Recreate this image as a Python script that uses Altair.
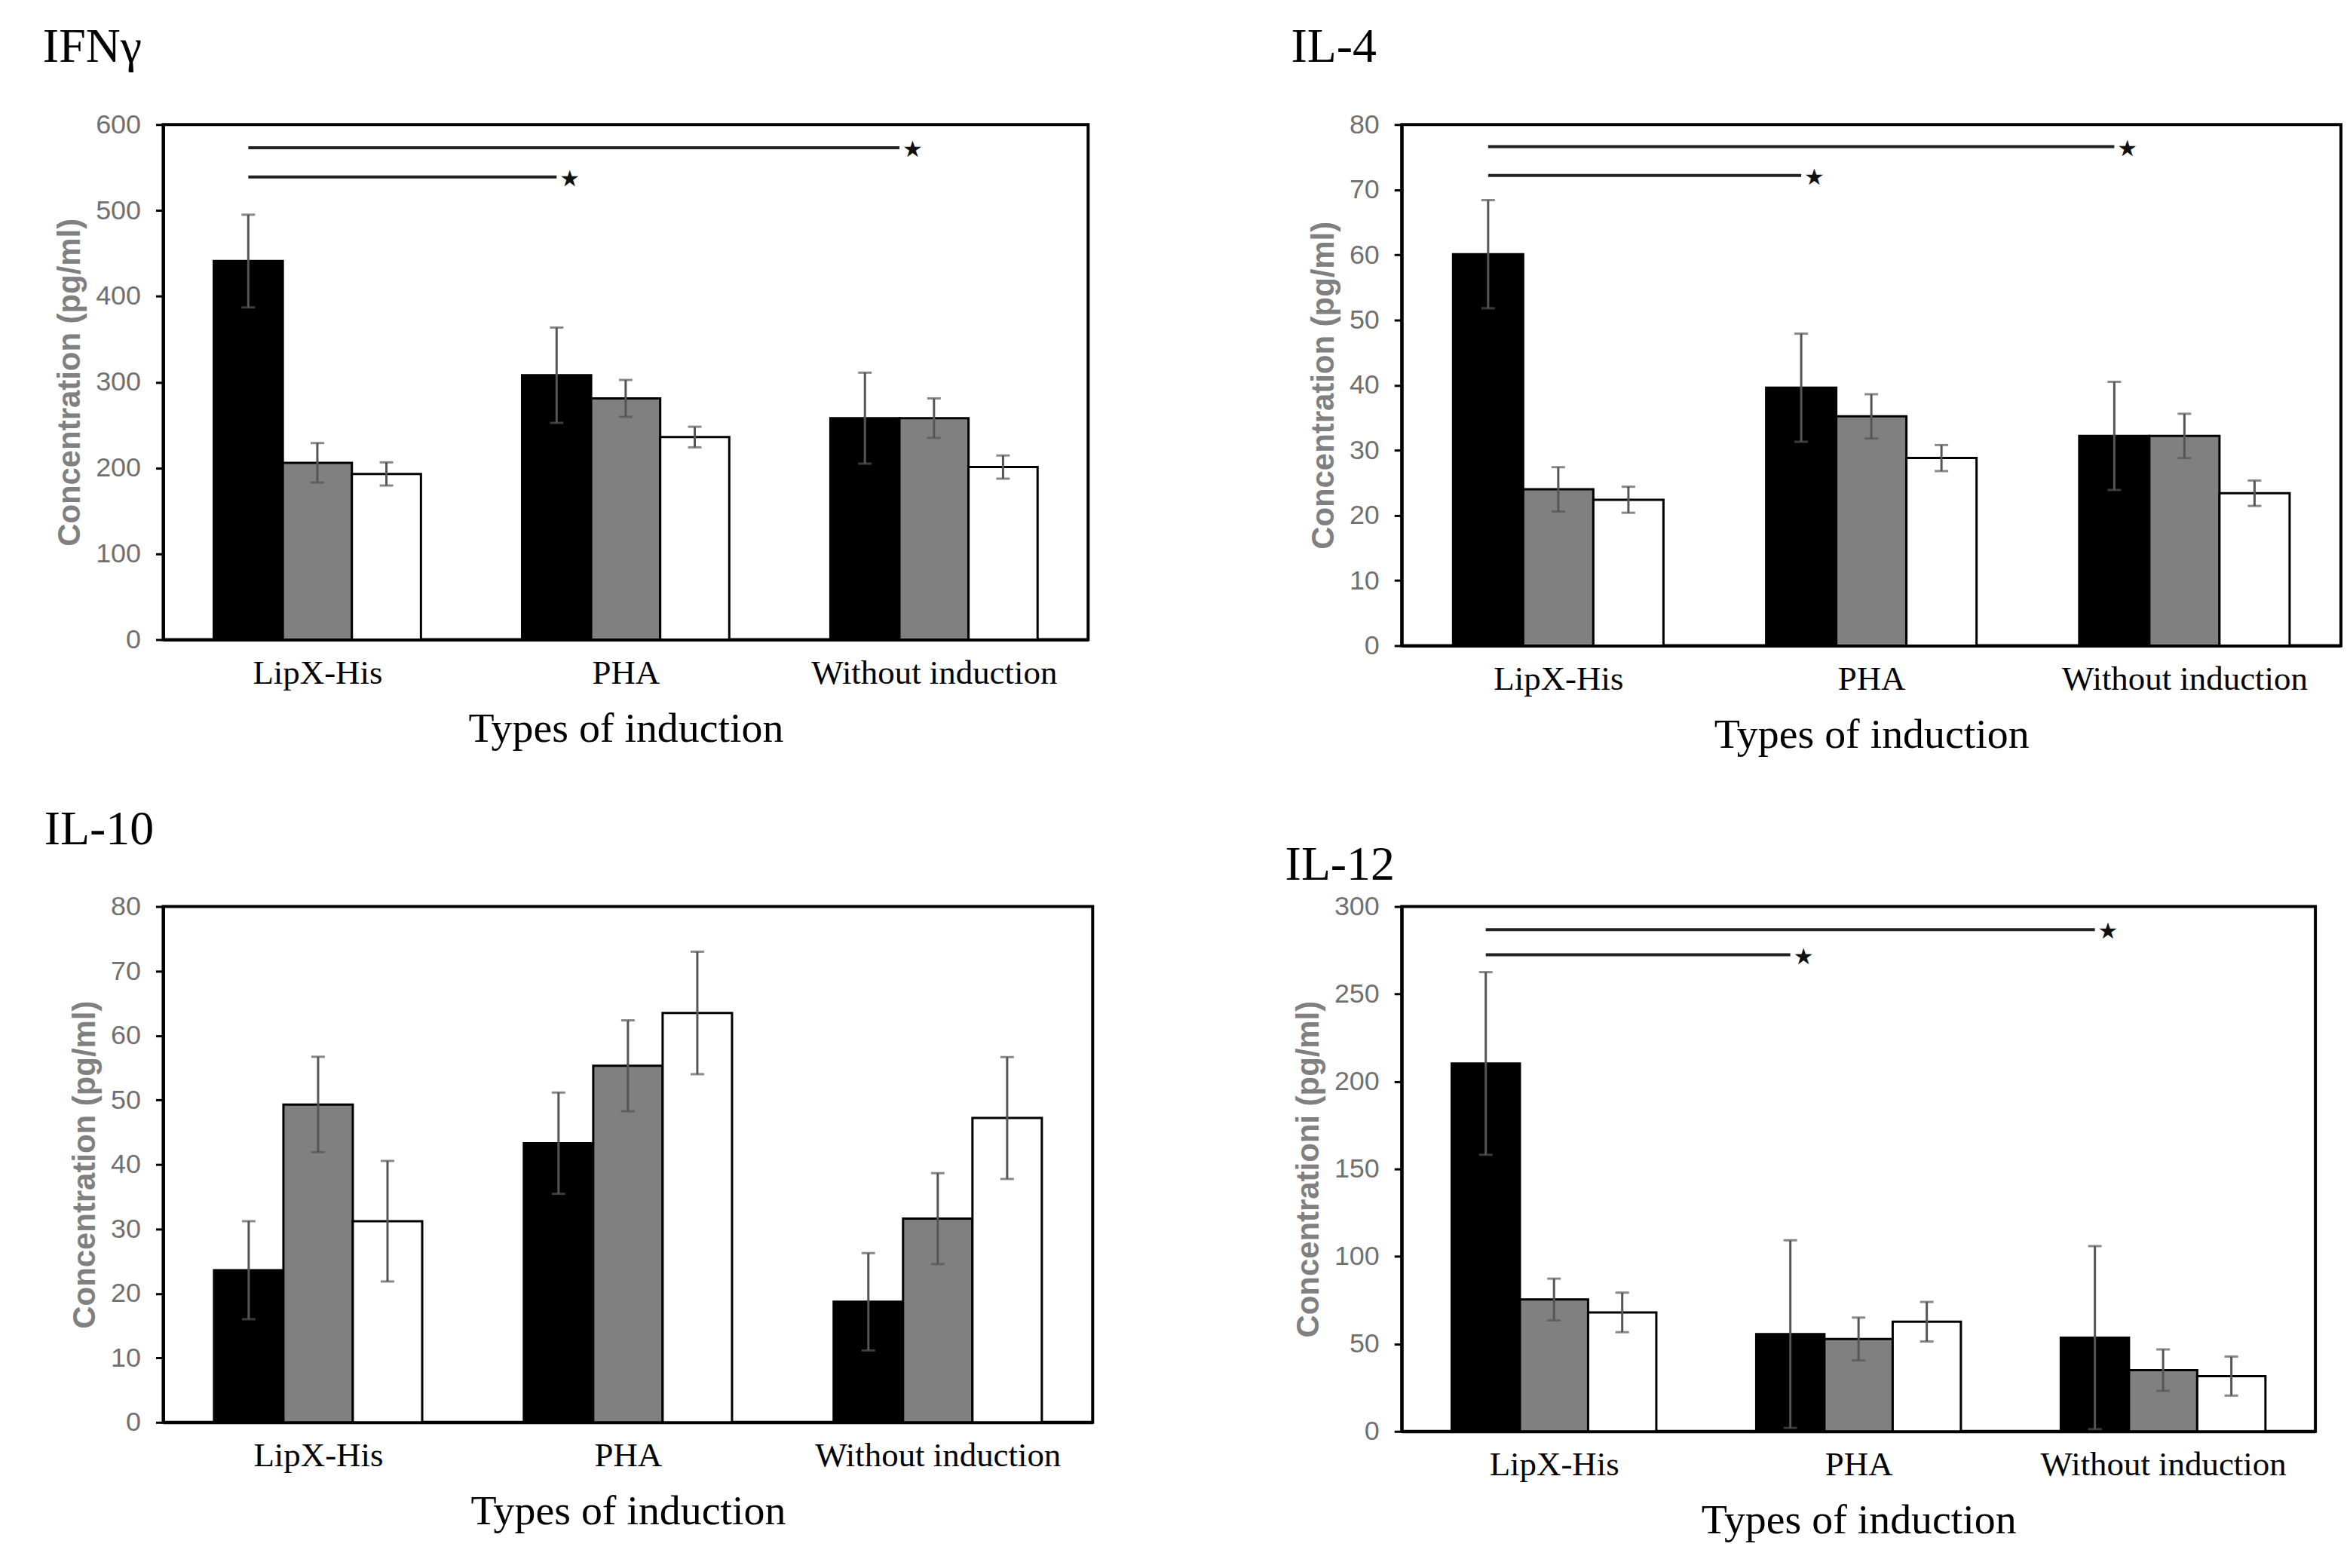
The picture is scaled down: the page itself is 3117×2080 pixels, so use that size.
import altair as alt
import pandas as pd

categories = ["LipX-His", "PHA", "Without induction"]
groups = ["black", "gray", "white"]
group_fill = ["#000000", "#808080", "#ffffff"]

# IFN-gamma (pg/ml)
ifn_black = [441, 308, 258]
ifn_black_err = [54, 55.5, 53]
ifn_gray = [206, 281, 258]
ifn_gray_err = [23, 21.5, 23]
ifn_white = [193, 236, 201]
ifn_white_err = [13.5, 12, 13.5]
# (from, to, level, line ends at centre (0) or right edge (1) of the target's first bar)
ifn_sig = [("LipX-His", "Without induction", 573, 1), ("LipX-His", "PHA", 539, 0)]

# IL-4
il4_black = [60.1, 39.6, 32.2]
il4_black_err = [8.3, 8.3, 8.3]
il4_gray = [24.0, 35.2, 32.2]
il4_gray_err = [3.4, 3.4, 3.4]
il4_white = [22.4, 28.8, 23.4]
il4_white_err = [2.0, 2.0, 1.95]
il4_sig = [("LipX-His", "Without induction", 76.6, 0), ("LipX-His", "PHA", 72.2, 0)]

# IL-10
il10_black = [23.6, 43.3, 18.7]
il10_black_err = [7.6, 7.85, 7.55]
il10_gray = [49.3, 55.3, 31.6]
il10_gray_err = [7.4, 7.05, 7.05]
il10_white = [31.2, 63.5, 47.2]
il10_white_err = [9.35, 9.5, 9.45]
il10_sig = []

# IL-12
il12_black = [210.3, 55.6, 53.6]
il12_black_err = [52.2, 53.6, 52.3]
il12_gray = [75.4, 52.8, 35.0]
il12_gray_err = [11.9, 12.25, 11.85]
il12_white = [68.0, 62.7, 31.6]
il12_white_err = [11.3, 11.3, 11.15]
il12_sig = [("LipX-His", "Without induction", 286.8, 0), ("LipX-His", "PHA", 272.4, 0)]

CATS_JS = "[" + ",".join("'" + c + "'" for c in categories) + "]"
GRPS_JS = "[" + ",".join("'" + g + "'" for g in groups) + "]"
BAR_STEP = 0.224


def build_df(means, errs):
    rows = []
    for g, m_list, e_list in zip(groups, means, errs):
        for c, m, e in zip(categories, m_list, e_list):
            rows.append({"cat": c, "grp": g, "mean": m, "lo": max(m - e, 0), "hi": m + e})
    return pd.DataFrame(rows)


def panel(title, means, errs, sig, ymax, ystep, ytitle, w, h, tdx, toff, tdy=0):
    df = build_df(means, errs)
    xscale = alt.Scale(domain=[0, 3], nice=False, zero=False)
    yscale = alt.Scale(domain=[0, ymax], nice=False)
    xaxis = alt.Axis(
        title="Types of induction", values=[0.5, 1.5, 2.5],
        labelExpr=CATS_JS + "[floor(datum.value)]",
        grid=False, ticks=False, domainColor="black", domainWidth=4,
        labelFont="Liberation Serif", labelFontSize=45, labelColor="black",
        labelPadding=22, labelFlush=False, labelLimit=0, labelOverlap=False,
        titleFont="Liberation Serif", titleFontSize=56, titleFontWeight="normal",
        titleColor="black", titlePadding=24,
    )
    yaxis = alt.Axis(
        title=ytitle, values=list(range(0, ymax + 1, ystep)), grid=False,
        tickSize=10, tickColor="black", tickWidth=3,
        domainColor="black", domainWidth=4,
        labelFont="Liberation Sans", labelFontSize=36, labelColor="#707070",
        labelPadding=20, labelFlush=False, labelOverlap=False,
        titleFont="Liberation Sans", titleFontSize=42, titleFontWeight="bold",
        titleColor="#808080", titlePadding=12,
    )

    def X(f):
        return alt.X(f, type="quantitative", scale=xscale, axis=xaxis)

    def Y(f):
        return alt.Y(f, type="quantitative", scale=yscale, axis=yaxis)

    base = alt.Chart(df).transform_calculate(
        gi=f"indexof({CATS_JS}, datum.cat)",
        si=f"indexof({GRPS_JS}, datum.grp)",
    ).transform_calculate(
        xc=f"datum.gi + 0.5 + (datum.si - 1) * {BAR_STEP}",
    ).transform_calculate(
        xl=f"datum.xc - {BAR_STEP / 2}",
        xr=f"datum.xc + {BAR_STEP / 2}",
    )

    bars = base.mark_rect(stroke="black", strokeWidth=3).encode(
        x=X("xl"), x2="xr", y=Y("mean"), y2=alt.datum(0),
        fill=alt.Fill("grp:N", scale=alt.Scale(domain=groups, range=group_fill), legend=None),
    )
    err = base.mark_rule(color="#555555", strokeWidth=3).encode(
        x=X("xc"), y=Y("lo"), y2="hi"
    )
    cap_lo = base.mark_tick(orient="horizontal", size=18, thickness=3, color="#555555").encode(
        x=X("xc"), y=Y("lo")
    )
    cap_hi = base.mark_tick(orient="horizontal", size=18, thickness=3, color="#555555").encode(
        x=X("xc"), y=Y("hi")
    )
    layers = [bars, err, cap_lo, cap_hi]
    if sig:
        sdf = pd.DataFrame(sig, columns=["c1", "c2", "level", "edge"])
        sbase = alt.Chart(sdf).transform_calculate(
            sx1=f"indexof({CATS_JS}, datum.c1) + 0.5 - {BAR_STEP}",
            sx2=f"indexof({CATS_JS}, datum.c2) + 0.5 - {BAR_STEP} + datum.edge * {BAR_STEP / 2}",
        )
        lines = sbase.mark_rule(color="#222222", strokeWidth=4).encode(
            x=X("sx1"), x2="sx2", y=Y("level")
        )
        stars = sbase.mark_text(text="★", align="left", baseline="middle", dx=4, dy=3,
                                fontSize=30, font="DejaVu Sans", color="#111111").encode(
            x=X("sx2"), y=Y("level")
        )
        layers += [lines, stars]
    return alt.layer(*layers).properties(
        width=w, height=h,
        view=alt.ViewBackground(stroke="black", strokeWidth=4, fill="white"),
        title=alt.TitleParams(
            text=title, anchor="start", frame="group", dx=tdx, dy=tdy, offset=toff,
            font="Liberation Serif", fontSize=64, fontWeight="normal", color="black",
            baseline="alphabetic",
        ),
    )


ifn = panel("IFNγ", [ifn_black, ifn_gray, ifn_white], [ifn_black_err, ifn_gray_err, ifn_white_err],
            ifn_sig, 600, 100, "Concentration (pg/ml)", 1230, 685, -160, 1)
il4 = panel("IL-4", [il4_black, il4_gray, il4_white], [il4_black_err, il4_gray_err, il4_white_err],
            il4_sig, 80, 10, "Concentration (pg/ml)", 1249, 693, -147, 1)
il10 = panel("IL-10", [il10_black, il10_gray, il10_white], [il10_black_err, il10_gray_err, il10_white_err],
             il10_sig, 80, 10, "Concentration (pg/ml)", 1236, 686, -158, 1)
il12 = panel("IL-12", [il12_black, il12_gray, il12_white], [il12_black_err, il12_gray_err, il12_white_err],
             il12_sig, 300, 50, "Concentrationi (pg/ml)", 1215, 698, -155, 1, 47)

chart = alt.concat(
    ifn, il4, il10, il12, columns=2, bounds="flush",
    spacing={"row": 347, "column": 411},
).properties(
    padding={"left": 47, "top": 19, "right": 2, "bottom": 10}
).configure_view(stroke="black", strokeWidth=4).configure(background="white")

chart.save("out.html", embed_options={"renderer": "svg", "actions": False})
